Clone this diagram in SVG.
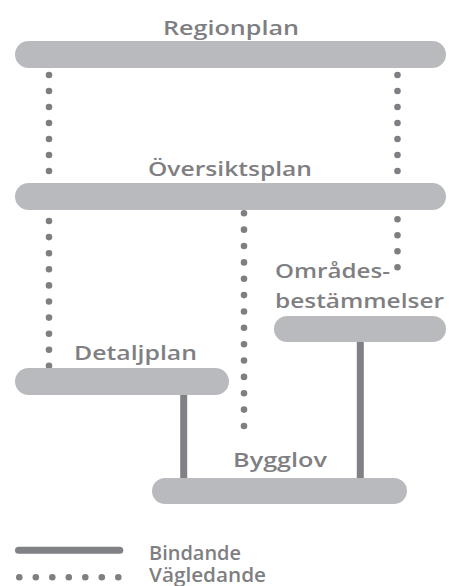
<svg xmlns="http://www.w3.org/2000/svg" width="449" height="586" viewBox="0 0 449 586">
<style>
.bar{fill:#b9babd}
.lbl{font-family:"Open Sans","Liberation Sans",sans-serif;font-weight:600;font-size:20.5px;fill:#7f7f83}
.leg{font-size:19.5px}
.dot{fill:none;stroke:#7f7f83;stroke-width:6.6;stroke-linecap:round}
.solid{fill:none;stroke:#808185;stroke-width:7}
</style>
<rect width="449" height="586" fill="#ffffff"/>
<g id="connectors">
<path class="dot" stroke-dasharray="0 16" d="M49 75V171.2"/>
<path class="dot" stroke-dasharray="0 16" d="M397.5 75V171.2"/>
<path class="dot" stroke-dasharray="0 16.1" d="M49 221V366.2"/>
<path class="dot" stroke-dasharray="0 16" d="M397.5 219.3V267.5M397.5 280v0"/>
<path class="dot" stroke-dasharray="0 16.36" d="M244 213.3V426.2M244 438.7v0"/>
<path class="solid" d="M183.7 395V478"/>
<path class="solid" d="M360.3 342V478"/>
</g>
<g id="regionplan">
<rect class="bar" x="15" y="41" width="431" height="27" rx="13.5"/>
<text class="lbl" x="163" y="35" textLength="136" lengthAdjust="spacingAndGlyphs">Regionplan</text>
</g>
<g id="oversiktsplan">
<rect class="bar" x="15" y="183" width="431" height="27" rx="13.5"/>
<text class="lbl" x="148" y="176" textLength="164" lengthAdjust="spacingAndGlyphs">Översiktsplan</text>
</g>
<g id="omradesbestammelser">
<rect class="bar" x="274" y="316" width="172" height="26" rx="13"/>
<text class="lbl" x="275" y="277.5" textLength="115" lengthAdjust="spacingAndGlyphs">Områdes-</text>
<text class="lbl" x="275" y="307.5" textLength="169" lengthAdjust="spacingAndGlyphs">bestämmelser</text>
</g>
<g id="detaljplan">
<rect class="bar" x="15" y="368" width="214" height="27" rx="13.5"/>
<text class="lbl" x="74" y="359.5" textLength="123" lengthAdjust="spacingAndGlyphs">Detaljplan</text>
</g>
<g id="bygglov">
<rect class="bar" x="152" y="478" width="255" height="26" rx="13"/>
<text class="lbl" x="233" y="467" textLength="94" lengthAdjust="spacingAndGlyphs">Bygglov</text>
</g>
<g id="legend">
<path d="M18.5 550.3H119.8" fill="none" stroke="#808185" stroke-width="7" stroke-linecap="round"/>
<path class="dot" stroke-dasharray="0 16.5" d="M19.3 577.3H118.6"/>
<text class="lbl leg" x="149" y="560" textLength="92" lengthAdjust="spacingAndGlyphs">Bindande</text>
<text class="lbl leg" x="149" y="581.5" textLength="117" lengthAdjust="spacingAndGlyphs">Vägledande</text>
</g>
</svg>
